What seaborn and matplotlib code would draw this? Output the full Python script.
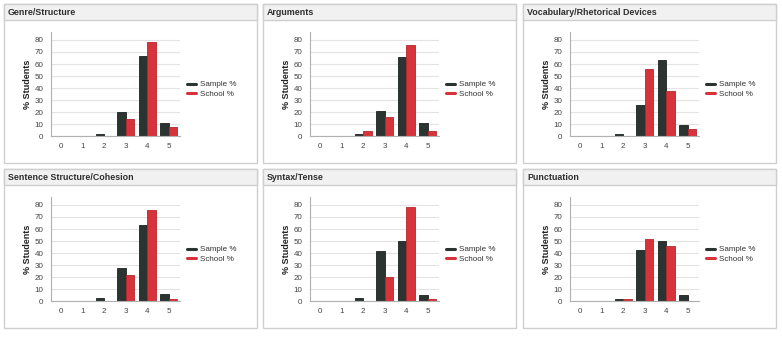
"""
Score distribution panels: Sample % vs School % per writing trait.
"""

import pandas as pd
import matplotlib.pyplot as plt
import seaborn as sns
from matplotlib.lines import Line2D
from matplotlib.patches import Rectangle


# ── Data ─────────────────────────────────────────────────────────────────────

scores = ["0", "1", "2", "3", "4", "5"]
series_names = ["Sample %", "School %"]

titles = [
    "Genre/Structure",
    "Arguments",
    "Vocabulary/Rhetorical Devices",
    "Sentence Structure/Cohesion",
    "Syntax/Tense",
    "Punctuation",
]

genre_sample = [0, 0, 2, 20, 67, 11]
genre_school = [0, 0, 0, 14, 78, 8]
arguments_sample = [0, 0, 2, 21, 66, 11]
arguments_school = [0, 0, 4, 16, 76, 4]
vocab_sample = [0, 0, 2, 26, 63, 9]
vocab_school = [0, 0, 0, 56, 38, 6]
sentence_sample = [0, 0, 3, 28, 63, 6]
sentence_school = [0, 0, 0, 22, 76, 2]
syntax_sample = [0, 0, 3, 42, 50, 5]
syntax_school = [0, 0, 0, 20, 78, 2]
punct_sample = [0, 0, 2, 43, 50, 5]
punct_school = [0, 0, 2, 52, 46, 0]

panel_values = [
    (genre_sample, genre_school),
    (arguments_sample, arguments_school),
    (vocab_sample, vocab_school),
    (sentence_sample, sentence_school),
    (syntax_sample, syntax_school),
    (punct_sample, punct_school),
]

# ── Style ────────────────────────────────────────────────────────────────────

W, H = 782, 359
DARK = "#2c3432"
RED = "#d6333b"
EDGES = ["#1c2220", "#b5262d"]

sns.set_style("white")
plt.rcParams["font.family"] = ["Liberation Sans", "DejaVu Sans"]

fig = plt.figure(figsize=(W / 100, H / 100), dpi=100)
fig.patch.set_facecolor("white")

panel_lefts = [4, 263, 523]
panel_tops = [4, 169]
panel_w, panel_h = 253, 159
header_h = 16


def px_rect(x, y, w, h):
    # pixel box (top-left origin) -> figure fraction
    return [x / W, 1 - (y + h) / H, w / W, h / H]


for i, (title, (sample, school)) in enumerate(zip(titles, panel_values)):
    px = panel_lefts[i % 3]
    py = panel_tops[i // 3]

    # panel frame + header strip, kept underneath the axes
    fx, fy, fw, fh = px_rect(px, py, panel_w, panel_h)
    fig.patches.append(Rectangle((fx, fy), fw, fh, transform=fig.transFigure,
                                 facecolor="white", edgecolor="#cfcfcf", lw=1, zorder=-2))
    hx, hy, hw, hh = px_rect(px, py, panel_w, header_h)
    fig.patches.append(Rectangle((hx, hy), hw, hh, transform=fig.transFigure,
                                 facecolor="#f1f1f1", edgecolor="#cfcfcf", lw=1, zorder=-1))
    fig.text((px + 4) / W, 1 - (py + header_h / 2 + 0.5) / H, title,
             fontsize=6.4, fontweight="bold", color="#2e2e2e", va="center", ha="left")

    df = pd.DataFrame({
        "score": scores * 2,
        "series": [series_names[0]] * len(scores) + [series_names[1]] * len(scores),
        "pct": list(sample) + list(school),
    })

    ax = fig.add_axes(px_rect(px + 46.5, py + 27.5, 129, 104.8))
    ax.patch.set_alpha(0)
    sns.barplot(data=df, x="score", y="pct", hue="series", order=scores,
                hue_order=series_names, palette=[DARK, RED], width=0.8,
                ax=ax, legend=False, saturation=1)
    for j, container in enumerate(ax.containers):
        for bar in container:
            bar.set_edgecolor(EDGES[j])
            bar.set_linewidth(0.6)

    ax.set_xlim(-0.5, 5.5)
    ax.set_ylim(0, 87)
    ax.set_yticks(range(0, 81, 10))
    ax.yaxis.grid(True, color="#e3e3e3", lw=0.8)
    ax.set_axisbelow(True)
    for side in ["top", "right"]:
        ax.spines[side].set_visible(False)
    ax.spines["left"].set_color("#b0b0b0")
    ax.spines["bottom"].set_color("#b0b0b0")
    ax.spines["left"].set_linewidth(0.8)
    ax.spines["bottom"].set_linewidth(0.8)

    # category ticks sit between the bars, labels at the centres
    ax.set_xticks([k - 0.5 for k in range(7)], minor=False)
    ax.set_xticklabels([])
    ax.set_xticks(range(6), minor=True)
    ax.set_xticklabels(scores, minor=True)
    ax.tick_params(axis="x", which="major", length=3, width=0.8, color="#b0b0b0", direction="out")
    ax.tick_params(axis="x", which="minor", length=0, pad=4.5, labelsize=5.8, labelcolor="#444444")
    ax.tick_params(axis="y", length=3, width=0.8, color="#b0b0b0", direction="out",
                   labelsize=5.8, labelcolor="#444444", pad=2)

    ax.set_xlabel("")
    ax.set_ylabel("% Students", fontsize=6.5, fontweight="bold", color="#222222", labelpad=2)

    handles = [Line2D([0], [0], color=DARK, lw=2.2), Line2D([0], [0], color=RED, lw=2.2)]
    ax.legend(handles, series_names, loc="center left", bbox_to_anchor=(1.01, 0.45),
              frameon=False, fontsize=5.8, handlelength=1.1, handletextpad=0.45,
              labelspacing=0.2, labelcolor="#333333", borderpad=0.3)

fig.savefig("out.png", dpi=100, facecolor="white")
